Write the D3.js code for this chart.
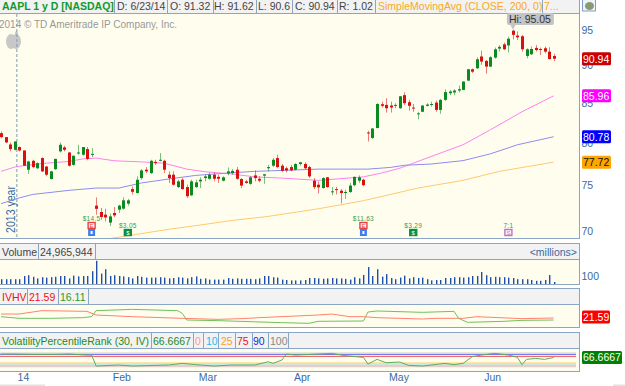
<!DOCTYPE html>
<html>
<head>
<meta charset="utf-8">
<style>
html, body { margin: 0; padding: 0; background: #fff; overflow: hidden; }
svg { display: block; font-family: "Liberation Sans", Arial, sans-serif; }
</style>
<script src="https://cdn.jsdelivr.net/npm/d3@7"></script>
</head>
<body>
<div id="chart"></div>
<script>
// daily candles
const opens = [81.22,80.73,79.84,79.19,79.52,79.11,76.83,77.88,77.0,78.2,77.2,75.75,76.9,79.0,79.48,78.87,77.4,78.8,78.6,79.27,78.66,
  72.75,72.05,71.76,70.9,71.94,72.31,72.42,72.97,74.6,74.16,75.86,76.83,76.44,77.75,77.88,77.88,76.25,76.25,74.83,75.67,74.83,73.9,74.83,75.48,75.86,75.78,76.25,76.0,75.56,
  76.4,76.44,76.83,75.75,75.48,75.2,76.17,75.78,76.14,77.0,77.3,78.2,77.3,77.0,77.14,76.83,77.5,77.5,77.14,75.56,75.1,
  74.72,75.95,74.25,74.6,74.42,74.16,74.28,75.05,75.56,75.67,81.3,80.63,81.86,84.87,84.78,84.7,84.66,84.35,86.05,85.13,84.44,83.57,83.9,84.66,84.78,85.08,84.14,85.43,86.3,86.4,86.65,86.74,
  87.97,89.5,89.63,91.25,90.64,89.86,91.1,92.35,92.95,92.8,94.9,94.2,94.1,91.33,91.56,92.45,92.3,92.4,91.93,91.32];
const highs = [81.42,80.75,80.08,80.2,79.6,79.11,77.88,78.0,77.7,78.3,77.3,76.7,78.15,80.08,79.68,78.9,78.5,79.8,79.52,79.52,79.4,
  73.67,72.5,72.4,71.87,72.6,72.86,73.67,73.5,74.9,76.06,76.9,77.14,78.0,78.0,78.8,78.0,76.64,76.64,75.67,75.86,75.1,75.67,75.67,75.95,76.25,76.5,76.5,76.25,76.06,
  77.1,76.9,77.14,75.86,75.67,76.06,76.75,76.06,76.33,77.4,78.2,78.6,77.5,77.2,77.4,77.6,77.75,77.7,77.3,75.86,75.48,
  75.95,76.0,74.83,74.83,74.6,74.53,75.3,76.06,76.17,75.8,81.5,81.85,85.0,85.2,85.66,85.2,85.0,85.95,86.4,85.43,84.9,83.9,84.75,85.0,85.2,85.34,85.55,86.83,86.74,86.83,87.3,87.9,
  89.55,89.6,91.15,92.07,90.77,91.3,92.5,92.85,93.2,94.05,95.05,94.8,94.3,92.4,92.65,92.85,92.5,92.65,92.55,91.62];
const lows = [80.6,80.0,79.0,79.11,79.0,77.3,76.33,77.0,76.9,76.56,76.06,75.7,76.8,78.87,79.0,77.2,77.3,78.6,78.5,77.95,78.3,
  71.76,71.2,71.02,70.54,71.5,71.94,72.31,72.75,74.0,74.1,75.67,76.44,76.33,77.4,77.8,76.44,75.3,75.0,74.72,74.53,73.6,73.8,74.72,74.72,75.48,75.67,75.48,75.3,75.48,
  76.17,76.25,75.67,74.72,75.2,75.1,75.48,75.37,75.2,76.64,77.14,77.0,76.56,76.5,76.64,76.75,77.3,76.9,75.86,74.6,74.1,
  74.65,74.75,73.9,74.0,73.0,73.5,74.16,74.9,75.3,74.9,80.2,80.5,81.8,84.44,83.8,83.8,84.35,84.3,84.78,84.05,83.9,82.95,83.85,84.57,84.57,83.9,83.65,85.3,86.05,86.05,86.4,86.7,
  87.9,89.0,89.55,90.1,88.9,89.8,90.95,91.93,92.16,91.8,93.65,93.57,91.93,91.0,91.45,91.93,91.45,91.7,90.85,90.6];
const closes = [80.73,80.08,79.27,80.2,79.11,77.3,77.8,77.14,77.6,76.64,76.25,76.64,78.1,79.8,79.19,77.3,78.48,78.87,79.52,78.1,78.7,
  72.4,71.5,71.46,71.57,71.68,72.75,73.34,73.34,74.3,75.67,76.75,76.64,77.88,77.6,78.0,76.83,75.86,75.1,75.48,74.6,73.8,75.48,75.37,75.67,76.06,76.25,75.78,75.78,75.95,
  76.64,76.7,75.78,75.0,75.3,75.95,75.86,75.56,76.3,77.14,78.0,77.14,76.7,76.75,76.75,77.5,77.7,77.0,76.06,74.83,74.8,
  75.86,74.83,74.35,74.53,74.16,74.28,75.0,76.0,75.95,75.05,81.22,81.8,84.9,84.66,84.35,84.44,84.78,85.9,85.0,84.66,84.35,83.7,84.7,84.83,84.9,84.14,85.43,86.45,86.53,86.65,86.83,87.84,
  89.5,89.17,90.87,90.55,89.86,91.15,92.26,92.6,92.26,93.75,94.3,93.95,92.26,92.26,92.3,92.16,92.16,91.93,90.9,90.94];

// volume in millions, one per candle
const volumes = [60,60,60,60,60,100,110,90,70,85,80,85,90,100,100,70,105,95,100,100,160,290,130,185,100,110,100,95,85,70,100,90,80,80,80,85,80,70,75,85,80,70,85,95,65,70,55,55,55,55,
  75,65,70,65,65,65,60,70,100,100,85,80,55,50,45,45,45,50,75,75,70,65,70,75,70,70,65,55,85,70,112,212,100,185,92,124,75,60,80,104,70,85,75,80,60,45,50,50,75,75,85,85,80,85,100,100,150,
  110,85,90,85,85,80,75,60,60,60,50,40,40,50,112,25];

// moving averages, sampled at bar numbers where the line bends
const smaPinkBars = [0,3,5,10,15,18,21,25,31,36,41,45,51,56,62,70,74,80,84,88,90,96,102,108,115,122];
const smaPinkVals = [76.64,77.14,77.3,77.6,77.8,78.1,78.2,77.88,77.75,77.6,76.9,76.6,76.33,76.0,75.86,75.6,75.75,76.0,76.44,77.0,77.4,78.6,79.8,81.63,83.9,85.96];
const smaBlueBars = [0,4,7,15,21,26,31,37,43,50,56,62,70,74,81,86,89,95,102,108,114,122];
const smaBlueVals = [72.97,73.6,74.0,74.46,74.72,74.72,75.3,75.75,76.17,76.44,76.64,76.75,76.9,76.9,76.9,77.1,77.35,77.5,77.9,78.7,79.8,80.78];
const smaOrangeBars = [24,29,37,44,51,59,70,80,86,92,102,110,122];
const smaOrangeVals = [69.2,69.57,70.18,70.64,71.13,71.57,72.4,73.3,74.0,74.72,75.6,76.64,77.72];

// IVHV study
const ivBars = [0,4,11,18,20,21,29,39,40,41,48,62,68,70,80,81,83,93,100,101,103,111,115,122];
const ivVals = [25.2,20.7,20.7,22.5,25.2,41.7,45.3,41.7,34.4,16.1,14.3,8.8,7,12.5,13.4,38,40.8,37.1,39.8,20.7,9.7,12.5,15.2,16.11];
const hvBars = [0,4,9,19,21,29,40,48,53,57,70,73,77,80,83,93,96,102,105,115,122];
const hvVals = [32.5,32.5,41.7,39.8,29.8,25.2,20.7,17.9,19.8,22.5,29.8,32.5,25.2,25.2,22.5,18.8,20.7,20.7,25.2,19.8,21.59];

// VolatilityPercentileRank study
const rankBars = [0,3,7,12,15,19,20,21,26,29,37,40,44,47,51,56,59,60,62,63,65,70,73,76,80,81,83,85,88,90,93,98,100,102,104,106,109,112,114,115,116,118,120,122];
const rankVals = [91.8,91.8,89.4,89.4,91.8,84.5,84.5,4.8,12,4.8,12,24,12,4.8,12,12,36,24,48,91.8,84.5,91.8,96.6,79.7,67.6,19.3,53,29,33.8,9.7,4.8,24,14.5,24,72,84.5,96.6,84.5,67.6,14.5,53,60,53,66.67];
const rankLevels = [0,10,25,75,90,100];
const rankLevelColors = ["#ffb8b0","#a8e4f8","#ffdc90","#f05050","#5050f0","#d8d8d8"];

// corporate events
const eventBars = [20,28,80,91,112];
const eventLabels = ["$14.5","$3.05","$11.63","$3.29","7:1"];
const eventKinds = ["earnings","dividend","earnings","dividend","split"];

const priceTicks = [70,75,80,85,90,95];
const monthBars = [4,25,44,65,86,107];
const monthLabels = ["14","Feb","Mar","Apr","May","Jun"];

const width = 625, height = 386;
const plotRight = 579.5;
const fontPx = "10.5px";
const lineCol = "#8aa6c4", headBg = "#f2f2f2", plotBg = "#fffeee", axisCol = "#3a6a9e";

const svg = d3.select("#chart").append("svg").attr("width", width).attr("height", height);

const x = d3.scaleLinear().domain([0, 122]).range([1, 553.7]);
const y = d3.scaleLog().domain([70, 95]).range([231, 30]);
const yVol = d3.scaleLinear().domain([0, 300]).range([284, 260]);
const yIv = d3.scaleLinear().domain([16.11, 21.59]).range([320, 318]);
const yRank = d3.scaleLinear().domain([0, 100]).range([366.7, 352.9]);

function panel(top, bottom) {
    svg.append("rect").attr("x", -1).attr("y", top + 0.5).attr("width", plotRight + 1).attr("height", bottom - top)
        .attr("fill", plotBg).attr("stroke", lineCol);
}

function headRow(top, bottom, cells) {
    svg.append("rect").attr("x", -1).attr("y", top + 0.5).attr("width", plotRight + 1).attr("height", bottom - top)
        .attr("fill", headBg).attr("stroke", lineCol);
    cells.forEach(c => {
        svg.append("text").attr("x", c.x).attr("y", bottom - 3.5).attr("fill", c.color)
            .style("font-size", fontPx).style("font-weight", c.bold ? "bold" : "normal").text(c.text);
        if (c.end) {
            svg.append("line").attr("x1", c.end + 0.5).attr("x2", c.end + 0.5).attr("y1", top).attr("y2", bottom)
                .attr("stroke", lineCol);
        }
    });
}

function tag(cy, w, fill, color, text) {
    svg.append("rect").attr("x", 582).attr("y", cy - 6.5).attr("width", w).attr("height", 13).attr("rx", 1.5).attr("fill", fill);
    svg.append("text").attr("x", 583).attr("y", cy + 3.8).attr("fill", color).style("font-size", fontPx).text(text);
}

function studyLine(bars, vals, yScale, color, clip) {
    const line = d3.line().x(d => x(d[0])).y(d => yScale(d[1]));
    const path = svg.append("path").datum(d3.zip(bars, vals)).attr("d", line)
        .attr("fill", "none").attr("stroke", color).attr("stroke-width", 1);
    if (clip) path.attr("clip-path", "url(#mainClip)");
    return path;
}

// ############# main price panel #############
svg.append("defs").append("clipPath").attr("id", "mainClip")
    .append("rect").attr("x", 0).attr("y", 14).attr("width", plotRight).attr("height", 224);

panel(13, 238);
headRow(-1, 13, [
    { x: 2, text: "AAPL 1 y D [NASDAQ]", color: "#0f9a2c", bold: true, end: 114 },
    { x: 117, text: "D: 6/23/14", color: "#444", end: 167 },
    { x: 170, text: "O: 91.32", color: "#444", end: 213 },
    { x: 214, text: "H: 91.62", color: "#444", end: 256 },
    { x: 258, text: "L: 90.6", color: "#444", end: 292 },
    { x: 295, text: "C: 90.94", color: "#444", end: 337 },
    { x: 339, text: "R: 1.02", color: "#444", end: 375 },
    { x: 378, text: "SimpleMovingAvg (CLOSE, 200, 0)", color: "#f9a825", end: 542 },
    { x: 544, text: "7...", color: "#f9a825" }
]);

svg.append("text").attr("x", -1).attr("y", 28).attr("fill", "#999").style("font-size", "10px")
    .text("2014 \u00a9 TD Ameritrade IP Company, Inc.");

// apple watermark
const apple = svg.append("g").attr("fill", "#c8c8c8");
apple.append("ellipse").attr("cx", 11).attr("cy", 41.5).attr("rx", 5).attr("ry", 7.5);
apple.append("ellipse").attr("cx", 16).attr("cy", 41.5).attr("rx", 5).attr("ry", 7.5);
apple.append("ellipse").attr("cx", 16.5).attr("cy", 33.5).attr("rx", 1.6).attr("ry", 2.2);

svg.append("line").attr("x1", x(3.5)).attr("x2", x(3.5)).attr("y1", 14).attr("y2", 238)
    .attr("stroke", "#7f9ab5").attr("stroke-dasharray", "3,2");
svg.append("text").attr("transform", "translate(" + (x(3.5) - 1.5) + ",233) rotate(-90)")
    .attr("fill", "#3a6a9e").style("font-size", "12.5px")
    .attr("textLength", 47).attr("lengthAdjust", "spacingAndGlyphs").text("2013 year");

studyLine(smaPinkBars, smaPinkVals, y, "#ff80f0", true);
studyLine(smaBlueBars, smaBlueVals, y, "#8c8cf0", true);
studyLine(smaOrangeBars, smaOrangeVals, y, "#ffc870", true);

const candles = svg.append("g").selectAll("g").data(d3.range(opens.length)).join("g");
const candleCol = i => closes[i] >= opens[i] ? "#0b8a1f" : "#d81010";
candles.append("line")
    .attr("x1", i => Math.round(x(i)) + 0.5).attr("x2", i => Math.round(x(i)) + 0.5)
    .attr("y1", i => y(highs[i])).attr("y2", i => y(lows[i]))
    .attr("stroke", candleCol).attr("stroke-opacity", 0.55);
candles.append("rect")
    .attr("x", i => Math.round(x(i)) - 1).attr("width", 3)
    .attr("y", i => y(Math.max(opens[i], closes[i])))
    .attr("height", i => Math.max(1, Math.abs(y(opens[i]) - y(closes[i]))))
    .attr("fill", candleCol);

// high bubble
const hiBar = d3.maxIndex(highs);
svg.append("path")
    .attr("d", d3.line()([[x(hiBar) - 3, 24], [x(hiBar) + 3, 24], [x(hiBar), y(highs[hiBar])]]))
    .attr("fill", "#c4c4c4");
svg.append("rect").attr("x", x(hiBar) - 6).attr("y", 13).attr("width", 47).attr("height", 12).attr("rx", 2).attr("fill", "#c4c4c4");
svg.append("text").attr("x", x(hiBar) - 4).attr("y", 22.5).attr("fill", "#333").style("font-size", fontPx)
    .text("Hi: " + d3.format(".2f")(highs[hiBar]));

// events
const eventColors = { earnings: "#e84040", dividend: "#0a9040", split: "#c070d0" };
const eventLetters = { earnings: "E", dividend: "$", split: "S" };
eventBars.forEach((b, i) => {
    const kind = eventKinds[i];
    const cx = x(b);
    const top = kind === "earnings" ? 222 : 229;
    svg.append("rect").attr("x", cx - 3.5).attr("y", top + 0.5).attr("width", 7).attr("height", 6)
        .attr("fill", kind === "dividend" ? eventColors[kind] : "#fff6f0")
        .attr("stroke", eventColors[kind]).attr("stroke-width", 1.4);
    svg.append("text").attr("x", cx).attr("y", top + 6).attr("text-anchor", "middle")
        .attr("fill", kind === "dividend" ? "#fff" : eventColors[kind]).style("font-size", "6px").text(eventLetters[kind]);
    if (kind === "earnings") {
        svg.append("rect").attr("x", cx - 3.5).attr("y", 229).attr("width", 7).attr("height", 7).attr("fill", "#3f7ff0");
        svg.append("rect").attr("x", cx - 1).attr("y", 231).attr("width", 2).attr("height", 3).attr("fill", "#fff");
    }
    svg.append("text").attr("x", cx).attr("y", top - 1.5).attr("text-anchor", "middle")
        .attr("fill", "#3a9a50").style("font-size", "6.5px").style("letter-spacing", "0.3px").text(eventLabels[i]);
});

// price axis
const axisPrice = svg.append("g").attr("transform", "translate(" + plotRight + ",0)")
    .call(d3.axisRight(y).tickValues(priceTicks).tickFormat(d3.format("d")).tickSize(0).tickPadding(2));
axisPrice.select(".domain").remove();
axisPrice.selectAll("text").attr("fill", axisCol).style("font-size", fontPx).style("font-family", "inherit");

tag(y(closes[122]), 29, "#cc0000", "#fff", "90.94");
tag(y(smaPinkVals[smaPinkVals.length - 1]), 29, "#ff00ff", "#fff", "85.96");
tag(y(smaBlueVals[smaBlueVals.length - 1]), 29, "#0000ff", "#fff", "80.78");
tag(y(smaOrangeVals[smaOrangeVals.length - 1]), 29, "#ffa500", "#111", "77.72");

// corner icon
svg.append("rect").attr("x", 582.5).attr("y", -2).attr("width", 13).attr("height", 13).attr("fill", "#eef3f8").attr("stroke", "#7f9fc8");
svg.append("ellipse").attr("cx", 589.5).attr("cy", 6).attr("rx", 4.5).attr("ry", 4).attr("fill", "#8a9a70");

// ############# volume #############
headRow(243, 259, [
    { x: 2, text: "Volume", color: "#444", end: 38 },
    { x: 40, text: "24,965,944", color: "#444", end: 95 }
]);
svg.append("text").attr("x", 577).attr("y", 255.5).attr("text-anchor", "end").attr("fill", axisCol)
    .style("font-size", fontPx).text("<millions>");
panel(259, 284);
svg.append("g").selectAll("rect").data(volumes).join("rect")
    .attr("x", (d, i) => Math.round(x(i)))
    .attr("width", 1.4)
    .attr("y", d => yVol(d))
    .attr("height", d => yVol(0) - yVol(d))
    .attr("fill", "#1f4fa8");
const axisVol = svg.append("g").attr("transform", "translate(" + plotRight + ",0)")
    .call(d3.axisRight(yVol).tickValues([100]).tickSize(0).tickPadding(2));
axisVol.select(".domain").remove();
axisVol.selectAll("text").attr("fill", axisCol).style("font-size", fontPx).style("font-family", "inherit");

// ############# IVHV #############
headRow(288, 304, [
    { x: 2, text: "IVHV", color: "#ee1111", end: 27 },
    { x: 29, text: "21.59", color: "#ee1111", end: 58 },
    { x: 60, text: "16.11", color: "#2a9a2a", end: 88 }
]);
panel(304, 327);
studyLine(hvBars, hvVals, yIv, "#ff8070");
studyLine(ivBars, ivVals, yIv, "#70c060");
tag(317, 28, "#ff0000", "#fff", "21.59");

// ############# percentile rank #############
headRow(332, 348, [
    { x: 2, text: "VolatilityPercentileRank (30, IV)", color: "#1f8a1f", end: 151 },
    { x: 153, text: "66.6667", color: "#1f8a1f", end: 193 },
    { x: 195, text: "0", color: "#ff9a90", end: 203 },
    { x: 206, text: "10", color: "#22bbee", end: 218 },
    { x: 221, text: "25", color: "#ffa020", end: 235 },
    { x: 237, text: "75", color: "#ee1111", end: 252 },
    { x: 253, text: "90", color: "#2222dd", end: 268 },
    { x: 270, text: "100", color: "#888", end: 288 }
]);
panel(348, 371);
rankLevels.forEach((lv, i) => {
    svg.append("line").attr("x1", 0).attr("x2", 576).attr("y1", yRank(lv)).attr("y2", yRank(lv))
        .attr("stroke", rankLevelColors[i]).attr("stroke-width", lv === 25 || lv === 10 ? 2 : 1);
});
// pale fill where the rank drops under the 25 level
svg.append("path").datum(d3.zip(rankBars, rankVals))
    .attr("d", d3.area().x(d => x(d[0])).y0(yRank(25)).y1(d => yRank(Math.min(d[1], 25))))
    .attr("fill", "#b8eeee").attr("fill-opacity", 0.7);
studyLine(rankBars, rankVals, yRank, "#58b060");
tag(yRank(66.67), 40, "#008000", "#fff", "66.6667");

// ############# time axis #############
const axisTime = svg.append("g").attr("transform", "translate(0,371)")
    .call(d3.axisBottom(x).tickValues(monthBars).tickFormat((d, i) => monthLabels[i]).tickSize(0).tickPadding(3));
axisTime.select(".domain").remove();
axisTime.selectAll("text").attr("fill", axisCol).attr("text-anchor", "start").attr("dx", "-2px")
    .style("font-size", fontPx).style("font-family", "inherit");

// scrollbar stubs along the bottom edge
svg.append("rect").attr("x", 0).attr("y", 384.5).attr("width", 45).attr("height", 1.5).attr("fill", "#e2e2e2");
svg.append("rect").attr("x", 613).attr("y", 384.5).attr("width", 12).attr("height", 1.5).attr("fill", "#e2e2e2");
</script>
</body>
</html>
